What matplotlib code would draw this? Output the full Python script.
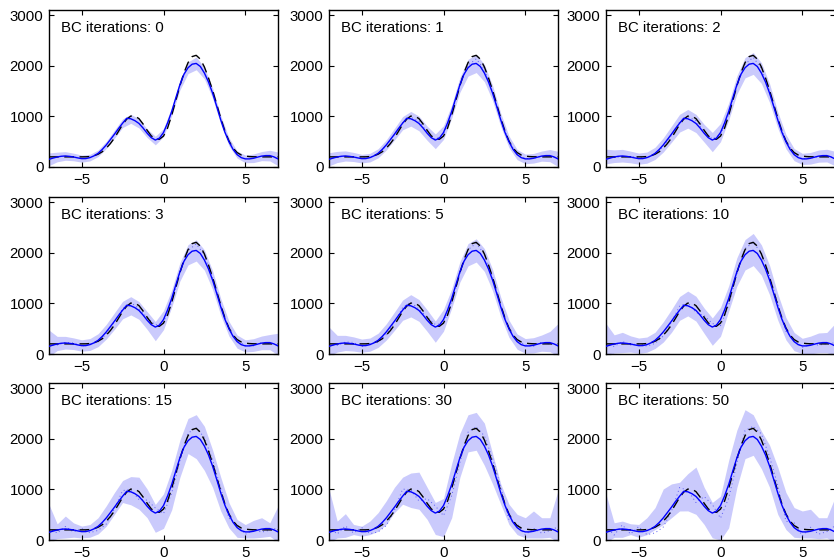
import matplotlib
matplotlib.use("Agg")
import matplotlib.pyplot as plt
import numpy as np

plt.rcParams['font.family'] = ['Liberation Sans', 'DejaVu Sans']

# Number of bias-correction iterations shown in each panel
ITERATIONS = [0, 1, 2, 3, 5, 10, 15, 30, 50]

# Curves sampled every 0.25 on [-7, 7]
X_FINE = np.linspace(-7, 7, 57)
TRUE_CURVE = [200, 200, 200, 200, 200, 200, 200, 200, 200,
              201, 206, 222, 252, 300, 372, 462, 572, 705, 840, 945, 1005,
              1005, 955, 850, 725, 615, 555, 548, 610, 770, 1020, 1310, 1600,
              1860, 2060, 2180, 2205, 2130, 1975, 1760, 1515, 1240, 965, 715,
              515, 375, 285, 238, 215, 206, 202,
              200, 200, 200, 200, 200, 200]
ESTIMATE = [152, 176, 198, 212, 218, 210, 198, 180, 165, 166, 185, 220, 270,
            345, 435, 540, 647, 760, 865, 962, 952, 915, 860, 770, 667, 580,
            532, 570, 680, 870, 1095, 1360, 1620, 1830, 1960, 2030, 2045,
            1985, 1855, 1680, 1460, 1200, 930, 690, 500, 350, 245, 185, 160,
            160, 172, 195, 215, 225, 225, 200, 160]

# Band spreads above / below the estimate, sampled every 0.5 on [-7, 7]
X_BAND = np.linspace(-7, 7, 29)
BAND_UP = [
    [125, 95, 85, 75, 70, 65, 65, 70, 80, 85, 90, 90, 85, 75, 80, 85, 100, 115, 125, 115, 100, 85, 80, 70, 75, 85, 90, 105, 135],
    [130, 110, 100, 90, 85, 85, 90, 100, 115, 130, 145, 145, 140, 120, 135, 130, 145, 165, 180, 170, 150, 130, 115, 100, 95, 95, 100, 120, 150],
    [200, 140, 130, 115, 110, 110, 120, 140, 160, 175, 185, 180, 175, 150, 180, 170, 180, 200, 215, 205, 185, 160, 140, 120, 110, 115, 120, 125, 150],
    [320, 150, 130, 120, 115, 120, 130, 150, 165, 175, 180, 175, 170, 110, 175, 170, 180, 200, 210, 200, 185, 165, 145, 130, 120, 130, 140, 160, 250],
    [380, 170, 150, 140, 130, 130, 140, 160, 180, 200, 220, 215, 205, 120, 200, 190, 200, 220, 230, 225, 210, 190, 170, 150, 145, 150, 160, 220, 440],
    [450, 180, 210, 160, 150, 150, 160, 200, 230, 270, 290, 280, 240, 180, 240, 250, 280, 300, 335, 300, 290, 260, 220, 180, 150, 180, 200, 200, 440],
    [550, 120, 255, 140, 110, 120, 170, 240, 290, 310, 300, 380, 340, 170, 230, 280, 350, 440, 430, 390, 320, 310, 240, 160, 145, 215, 225, 115, 510],
    [855, 175, 302, 109, 108, 188, 270, 338, 393, 375, 370, 480, 373, 210, 140, 412, 483, 513, 475, 452, 248, 177, 207, 262, 280, 401, 225, 215, 813],
    [755, 142, 155, 122, 142, 255, 370, 572, 460, 275, 357, 580, 373, 210, 187, 478, 549, 613, 428, 295, 414, 510, 440, 395, 413, 435, 225, 215, 680],
]
BAND_DOWN = [
    [125, 95, 85, 75, 70, 65, 65, 70, 80, 85, 90, 90, 85, 95, 80, 85, 100, 115, 125, 115, 100, 85, 80, 70, 75, 85, 90, 105, 135],
    [130, 110, 100, 90, 85, 85, 90, 100, 115, 130, 145, 145, 140, 170, 135, 130, 145, 165, 180, 170, 150, 130, 115, 100, 95, 95, 100, 120, 150],
    [90, 110, 120, 115, 110, 110, 120, 140, 160, 175, 185, 180, 175, 230, 180, 170, 180, 200, 215, 205, 185, 160, 140, 120, 110, 115, 120, 125, 135],
    [200, 130, 120, 110, 110, 115, 125, 140, 160, 170, 180, 175, 180, 270, 200, 170, 180, 200, 210, 200, 185, 165, 145, 130, 120, 120, 130, 140, 180],
    [200, 160, 150, 140, 130, 130, 140, 160, 180, 200, 220, 215, 220, 300, 230, 190, 200, 220, 230, 225, 210, 190, 170, 150, 145, 150, 160, 180, 200],
    [200, 180, 190, 160, 150, 150, 160, 200, 220, 200, 200, 210, 260, 360, 330, 250, 280, 300, 300, 300, 290, 260, 220, 180, 150, 170, 190, 200, 200],
    [200, 170, 178, 143, 125, 130, 150, 162, 140, 125, 257, 253, 227, 380, 450, 500, 384, 253, 438, 482, 419, 357, 260, 192, 120, 132, 162, 152, 200],
    [200, 158, 165, 91, 92, 78, 97, 128, 107, 158, 310, 253, 260, 423, 613, 655, 384, 220, 272, 382, 352, 223, 193, 138, 120, 132, 175, 172, 200],
    [200, 145, 165, 91, 112, 78, 63, 128, 207, 292, 377, 353, 360, 490, 680, 855, 584, 353, 372, 448, 419, 423, 293, 192, 120, 132, 188, 185, 200],
]
# Offsets of the dotted (corrected mean) curve from the estimate, every 0.5
DOTTED_OFFSET = [
    None,
    [10, 0, -10, 0, 10, 0, -10, -15, -10, 10, 30, 40, 25, 15, -30, -40, -10, 50, 90, 70, 30, 10, 0, 10, 5, 0, -5, -5, 0],
    [20, -10, -15, 10, 15, -5, -15, -30, -20, 20, 45, 50, 30, 20, -40, -60, -20, 70, 120, 90, 40, 20, 10, 15, 0, 5, -10, -5, 10],
    [30, -20, 10, 20, -10, 10, -30, -40, -10, 30, 60, 40, 50, 40, -60, -70, -10, 80, 130, 100, 50, 30, -10, 20, 10, -10, 10, -20, 20],
    [40, -30, 20, 30, -20, 20, -40, -50, -20, 50, 70, 30, 60, 50, -80, -90, -30, 100, 140, 120, 60, 40, -20, 30, 20, -20, 20, -30, 30],
    [60, -50, 30, -20, 40, -30, -60, -80, -20, 80, 60, -40, 90, 70, -120, -130, -40, 120, 160, 140, 90, 70, -50, 40, -30, 30, -40, -20, 60],
    [80, -60, 50, -40, 60, -40, -80, -120, -30, 110, 50, -60, 120, 100, -160, -170, -60, 150, 170, 170, 120, 90, -70, 60, -50, 40, -60, -30, 80],
    [100, -80, 60, -60, 80, -60, -110, -150, -60, 140, 40, -90, 150, 140, -200, -220, -90, 170, 190, 200, 150, 120, -100, 80, -60, 60, -80, -40, 100],
    [120, -100, 80, -80, 100, -80, -130, -180, -80, 170, 30, -120, 190, 170, -250, -270, -110, 200, 200, 240, 180, 150, -130, 100, -80, 80, -100, -60, 120],
]

X_TICKS = [-5, 0, 5]
Y_TICKS = [0, 1000, 2000, 3000]

W, H = 834, 560
fig = plt.figure(figsize=(W / 100, H / 100), dpi=100)

col_left = [49, 329, 606]
row_top = [10, 197, 383]
ax_w, ax_h = 229, 157

est = np.array(ESTIMATE, dtype=float)
est_band = est[::2]

for k, it in enumerate(ITERATIONS):
    r, c = divmod(k, 3)
    ax = fig.add_axes([col_left[c] / W, 1 - (row_top[r] + ax_h) / H,
                       ax_w / W, ax_h / H])
    lo = est_band - np.array(BAND_DOWN[k])
    hi = est_band + np.array(BAND_UP[k])
    ax.fill_between(X_BAND, lo, hi, color='#CACAFC', lw=0, zorder=1)
    if DOTTED_OFFSET[k] is not None:
        ax.plot(X_BAND, est_band + np.array(DOTTED_OFFSET[k]),
                linestyle=(0, (1, 3)), color='#5A5AF5', lw=0.7, zorder=2)
    ax.plot(X_FINE, TRUE_CURVE, color='black', lw=1.0, dashes=(7, 4), zorder=3)
    ax.plot(X_FINE, est, color='#0000FF', lw=1.0, zorder=4)

    ax.set_xlim(-7, 7)
    ax.set_ylim(0, 3100)
    ax.set_xticks(X_TICKS)
    ax.set_yticks(Y_TICKS)
    ax.tick_params(direction='in', top=True, right=True, length=3.5,
                   width=0.8, labelsize=10.8, pad=4, colors='black')
    for s in ax.spines.values():
        s.set_linewidth(1.0)
    ax.text(12 / ax_w, 1 - 22 / ax_h, f'BC iterations: {it}',
            transform=ax.transAxes, fontsize=10.8, va='baseline', ha='left')

fig.savefig('out.png', dpi=100)
